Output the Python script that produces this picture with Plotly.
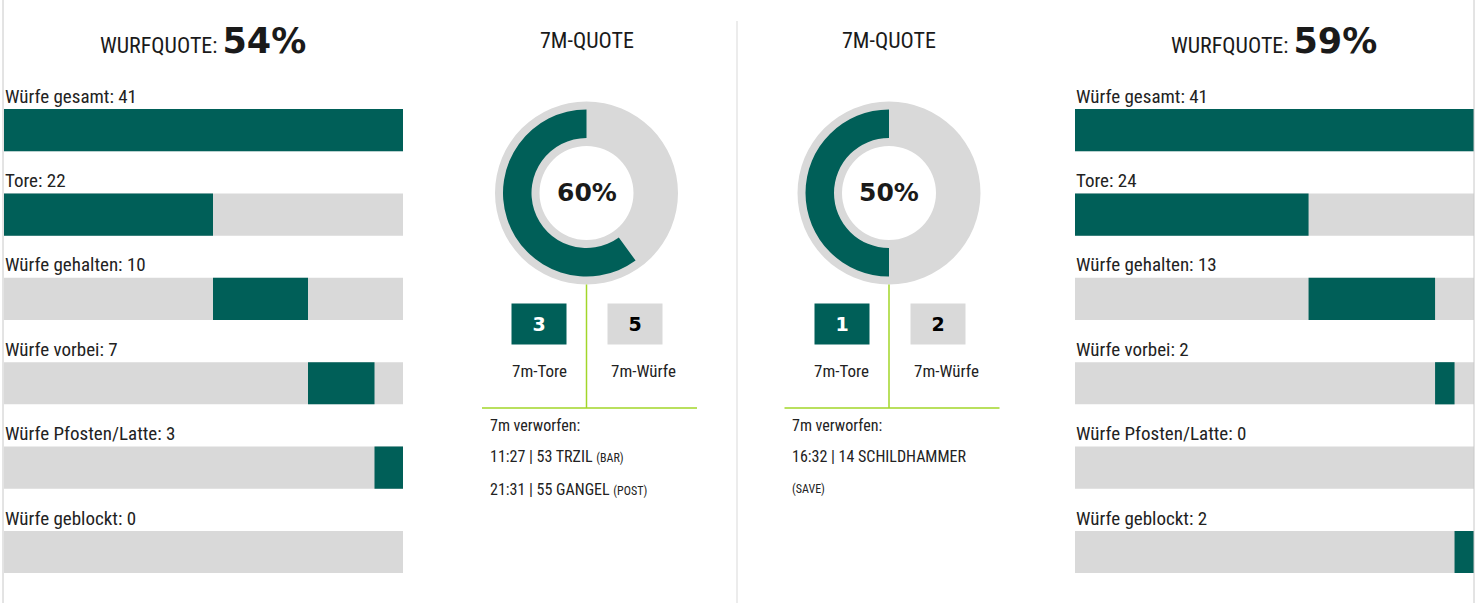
import plotly.graph_objects as go

W, H = 1481, 603

# ---------------- data ----------------
categories = ["Würfe gesamt", "Tore", "Würfe gehalten", "Würfe vorbei",
              "Würfe Pfosten/Latte", "Würfe geblockt"]
left_values = [41, 22, 10, 7, 3, 0]
right_values = [41, 24, 13, 2, 0, 2]
left_quote = 54
right_quote = 59

left_7m_goals, left_7m_shots = 3, 5
right_7m_goals, right_7m_shots = 1, 2

left_missed = ["11:27 | 53 TRZIL <span style='font-size:12px'>(BAR)</span>",
               "21:31 | 55 GANGEL <span style='font-size:12px'>(POST)</span>"]
right_missed = ["16:32 | 14 SCHILDHAMMER",
                "<span style='font-size:12px'>(SAVE)</span>"]

GREEN = "#005F58"
GRAY = "#D9D9D9"
LIME = "#A2D629"
COND = "Liberation Sans Narrow, Roboto Condensed, DejaVu Sans Condensed, Roboto, sans-serif"
WIDE = "DejaVu Sans, Verdana, sans-serif"

def px(x):
    return x / W

def py(y):
    return 1 - y / H

def note(x, y, text, size, family=COND, color="#222", xanchor="center", **kw):
    fig.add_annotation(x=px(x), y=py(y), xref="paper", yref="paper", text=text,
                       showarrow=False, xanchor=xanchor, yanchor="middle",
                       font=dict(family=family, size=size, color=color), **kw)

fig = go.Figure()

panels = [("x", "y", left_values), ("x2", "y2", right_values)]
for xa, ya, vals in panels:
    scale = max(vals[0], sum(vals[1:]))
    # gray background
    fig.add_trace(go.Bar(orientation="h", y=categories, x=[scale] * len(categories),
                         base=[0] * len(categories), marker=dict(color=GRAY, line=dict(width=0)),
                         width=0.5, xaxis=xa, yaxis=ya, hoverinfo="skip", showlegend=False))
    bases = [0]
    widths = [scale]
    cum = 0
    for v in vals[1:]:
        bases.append(cum)
        widths.append(v)
        cum += v
    fig.add_trace(go.Bar(orientation="h", y=categories, x=widths, base=bases,
                         marker=dict(color=GREEN, line=dict(width=0)),
                         width=0.5, xaxis=xa, yaxis=ya, hoverinfo="skip", showlegend=False))
    for c, v in zip(categories, vals):
        fig.add_annotation(x=0, y=c, xref=xa, yref=ya, text=f"{c}: {v}",
                           xanchor="left", yanchor="middle", yshift=34, xshift=-1,
                           showarrow=False, font=dict(family=COND, size=19, color="#222"))

axis_common = dict(showgrid=False, zeroline=False, showticklabels=False, ticks="", fixedrange=True)
ydom = [py(88), py(599.5)]
ydom = [min(ydom), max(ydom)]
lscale = max(left_values[0], sum(left_values[1:]))
rscale = max(right_values[0], sum(right_values[1:]))
fig.update_layout(
    xaxis=dict(domain=[px(4), px(403)], range=[0, lscale], **axis_common),
    yaxis=dict(domain=ydom, categoryorder="array", categoryarray=categories,
               autorange="reversed", **axis_common),
    xaxis2=dict(domain=[px(1075), px(1474)], range=[0, rscale], anchor="y2", **axis_common),
    yaxis2=dict(domain=ydom, categoryorder="array", categoryarray=categories,
                autorange="reversed", anchor="x2", **axis_common),
)

# titles
for cx, q in [(203, left_quote), (1274, right_quote)]:
    note(cx, 41,
         (f"<span style='font-family:{COND};font-size:22px'>WURFQUOTE: </span>"
          f"<span style='font-family:{WIDE};font-size:35px'><b>{q}%</b></span>"),
         22, color="#1a1a1a")

# 7m panels
mid_panels = [(586.5, left_7m_goals, left_7m_shots, left_missed),
              (889, right_7m_goals, right_7m_shots, right_missed)]
for cx, g, s, missed in mid_panels:
    cy = 193
    R, Rg, Rgi, Rw = 91.5, 83.5, 55, 47
    fig.add_trace(go.Pie(values=[s], labels=["7m-Würfe"], sort=False,
                         marker=dict(colors=[GRAY], line=dict(width=0)),
                         hole=Rw / R, textinfo="none", hoverinfo="skip", showlegend=False,
                         domain=dict(x=[px(cx - R), px(cx + R)], y=[py(cy + R), py(cy - R)])))
    # missed part (transparent) first, then goals, drawn clockwise from 12 o'clock
    fig.add_trace(go.Pie(values=[s - g, g], labels=["verworfen", "7m-Tore"], sort=False,
                         direction="clockwise", rotation=0,
                         marker=dict(colors=["rgba(0,0,0,0)", GREEN], line=dict(width=0)),
                         hole=Rgi / Rg, textinfo="none", hoverinfo="skip", showlegend=False,
                         domain=dict(x=[px(cx - Rg), px(cx + Rg)], y=[py(cy + Rg), py(cy - Rg)])))
    note(cx, cy - 1, f"<b>{round(100 * g / s)}%</b>", 25, family=WIDE, color="#1a1a1a")
    note(cx, 40, "7M-QUOTE", 22, color="#1a1a1a")
    # lines
    fig.add_shape(type="line", xref="paper", yref="paper",
                  x0=px(cx), x1=px(cx), y0=py(cy + R), y1=py(408),
                  line=dict(color=LIME, width=1.5))
    fig.add_shape(type="line", xref="paper", yref="paper",
                  x0=px(cx - 104.5), x1=px(cx + 110.5), y0=py(408), y1=py(408),
                  line=dict(color=LIME, width=1.5))
    # boxes
    note(cx - 47.5, 324, f"<b>{g}</b>", 19, family=WIDE, color="white",
         width=52, height=38, bgcolor=GREEN)
    note(cx + 48.5, 324, f"<b>{s}</b>", 19, family=WIDE, color="black",
         width=52, height=38, bgcolor=GRAY)
    note(cx - 47.5, 371, "7m-Tore", 17)
    note(cx + 57, 371, "7m-Würfe", 17)
    # missed list
    note(cx - 99, 425, "7m verworfen:", 16, xanchor="left")
    for i, t in enumerate(missed):
        note(cx - 99, 456 + 33 * i, t, 16, xanchor="left")

# dividers
fig.add_shape(type="line", xref="paper", yref="paper", x0=px(3), x1=px(3), y0=0, y1=1,
              line=dict(color="#C8C8C8", width=1))
fig.add_shape(type="line", xref="paper", yref="paper", x0=px(1474), x1=px(1474), y0=0, y1=1,
              line=dict(color="#C8C8C8", width=1))
fig.add_shape(type="line", xref="paper", yref="paper", x0=px(737), x1=px(737), y0=0, y1=py(21),
              line=dict(color="#E6E6E6", width=1.5))

fig.update_layout(width=W, height=H, margin=dict(l=0, r=0, t=0, b=0),
                  paper_bgcolor="white", plot_bgcolor="white", barmode="overlay",
                  showlegend=False)

fig.write_html("out.html", config={"displayModeBar": False},
               post_script="document.body.style.margin='0';document.body.style.overflow='hidden';")
